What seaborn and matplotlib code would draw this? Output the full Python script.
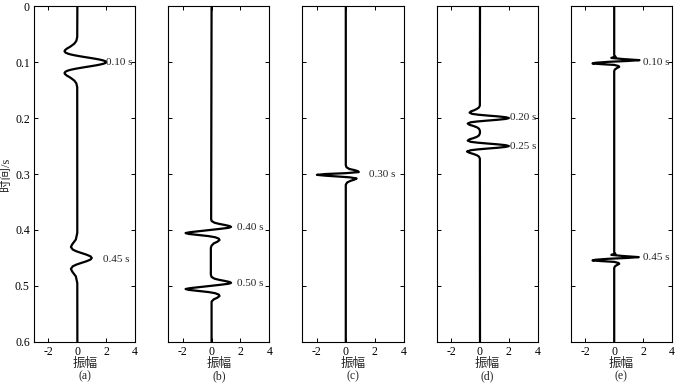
import matplotlib
matplotlib.use("Agg")
import matplotlib.pyplot as plt
import seaborn as sns

# time samples (s) and amplitudes
time_a = [0.0, 0.055, 0.062, 0.067, 0.072, 0.076, 0.0785, 0.0805, 0.083, 0.085, 0.0865, 0.088, 0.0895,
          0.091, 0.0925, 0.094, 0.0955, 0.097, 0.0985, 0.100, 0.1015, 0.103, 0.1045, 0.106, 0.1075,
          0.109, 0.1105, 0.112, 0.1135, 0.115, 0.117, 0.1195, 0.1215, 0.124, 0.128, 0.133, 0.138, 0.145,
          0.405, 0.417, 0.426, 0.4305, 0.435, 0.438, 0.441, 0.444, 0.447, 0.450, 0.453, 0.456, 0.459,
          0.462, 0.465, 0.4695, 0.474, 0.483, 0.495, 0.6]
amp_a = [0.0, -0.01, -0.07, -0.21, -0.47, -0.73, -0.85, -0.89, -0.82, -0.64, -0.43, -0.155, 0.17,
         0.52, 0.89, 1.24, 1.55, 1.79, 1.95, 2.0, 1.95, 1.79, 1.55, 1.24, 0.89,
         0.52, 0.17, -0.155, -0.43, -0.64, -0.82, -0.89, -0.85, -0.73, -0.47, -0.21, -0.07, -0.01,
         -0.005, -0.105, -0.365, -0.445, -0.32, -0.08, 0.26, 0.62, 0.9, 1.0, 0.9, 0.62, 0.26,
         -0.08, -0.32, -0.445, -0.365, -0.105, -0.005, 0.0]

time_b = [0.0, 0.380, 0.384, 0.387, 0.389, 0.391, 0.393, 0.3945, 0.396, 0.398, 0.400, 0.402, 0.404,
          0.4055, 0.407, 0.409, 0.411, 0.413, 0.4155, 0.418, 0.421, 0.424, 0.428, 0.432,
          0.480, 0.484, 0.487, 0.489, 0.491, 0.493, 0.4945, 0.496, 0.498, 0.500, 0.502, 0.504,
          0.5055, 0.507, 0.509, 0.511, 0.513, 0.5155, 0.518, 0.521, 0.524, 0.528, 0.532, 0.6]
amp_b = [0.0, -0.03, 0.0, 0.2, 0.5, 0.9, 1.25, 1.35, 1.2, 0.6, -0.1, -0.8, -1.5,
         -1.8, -1.6, -0.9, -0.2, 0.25, 0.5, 0.55, 0.4, 0.15, 0.0, -0.05,
         -0.05, 0.0, 0.2, 0.5, 0.9, 1.25, 1.35, 1.2, 0.6, -0.1, -0.8, -1.5,
         -1.8, -1.6, -0.9, -0.2, 0.25, 0.5, 0.55, 0.4, 0.15, 0.0, 0.0, 0.0]

time_c = [0.0, 0.284, 0.288, 0.291, 0.293, 0.295, 0.2965, 0.2985, 0.300, 0.3015, 0.303, 0.3045,
          0.306, 0.308, 0.310, 0.312, 0.315, 0.319, 0.6]
amp_c = [0.0, 0.0, 0.05, 0.25, 0.6, 0.85, 0.9, 0.0, -1.4, -2.0, -1.4, -0.5,
         0.3, 0.75, 0.6, 0.35, 0.1, 0.0, 0.0]

time_d = [0.0, 0.1775, 0.181, 0.1835, 0.186, 0.188, 0.1903, 0.1925, 0.194, 0.1955, 0.197, 0.1985,
          0.200, 0.2015, 0.203, 0.2045, 0.206, 0.2075, 0.2098, 0.212, 0.214, 0.2165, 0.219, 0.2225,
          0.225,
          0.2275, 0.231, 0.2335, 0.236, 0.238, 0.2403, 0.2425, 0.244, 0.2455, 0.247, 0.2485,
          0.250, 0.2515, 0.253, 0.2545, 0.256, 0.2575, 0.2598, 0.262, 0.264, 0.2665, 0.269, 0.2725,
          0.6]
amp_d = [0.0, -0.01, -0.07, -0.21, -0.4, -0.62, -0.72, -0.55, -0.12, 0.52, 1.24, 1.79,
         2.0, 1.79, 1.24, 0.52, -0.155, -0.64, -0.85, -0.73, -0.47, -0.21, -0.07, -0.01,
         0.0,
         -0.01, -0.07, -0.21, -0.47, -0.73, -0.85, -0.64, -0.155, 0.52, 1.24, 1.79,
         2.0, 1.79, 1.24, 0.52, -0.155, -0.64, -0.9, -0.73, -0.47, -0.21, -0.07, -0.01,
         0.0]

time_e = [0.0, 0.088, 0.0905, 0.0925, 0.0945, 0.0965, 0.098, 0.0995, 0.1012, 0.1025, 0.1038,
          0.105, 0.107, 0.1085, 0.1105, 0.113, 0.116,
          0.440, 0.4425, 0.4445, 0.4465, 0.4485, 0.450, 0.4515, 0.4532, 0.4545, 0.4558,
          0.457, 0.459, 0.4605, 0.4625, 0.465, 0.468, 0.6]
amp_e = [0.0, 0.0, 0.1, -0.2, 0.6, 1.75, 0.9, -0.4, -1.3, -1.5, -0.8,
         0.0, 0.3, 0.35, 0.2, 0.05, 0.0,
         0.0, 0.08, -0.2, 0.6, 1.7, 0.9, -0.4, -1.3, -1.5, -0.8,
         0.0, 0.3, 0.35, 0.2, 0.05, 0.0, 0.0]

# event annotations: (text, amplitude position, time)
notes_a = [("0.10 s", 2.0, 0.100), ("0.45 s", 1.8, 0.452)]
notes_b = [("0.40 s", 1.75, 0.395), ("0.50 s", 1.75, 0.495)]
notes_c = [("0.30 s", 1.6, 0.301)]
notes_d = [("0.20 s", 2.05, 0.199), ("0.25 s", 2.1, 0.250)]
notes_e = [("0.10 s", 2.0, 0.100), ("0.45 s", 2.0, 0.450)]

panel_tags = ["(a)", "(b)", "(c)", "(d)", "(e)"]
x_ticks = [-2, 0, 2, 4]
y_ticks = [0, 0.1, 0.2, 0.3, 0.4, 0.5, 0.6]
y_tick_labels = ["0", "0.1", "0.2", "0.3", "0.4", "0.5", "0.6"]

sns.set_style("ticks")
plt.rcParams["font.family"] = ["Liberation Serif", "Noto Sans CJK SC"]
plt.rcParams["axes.unicode_minus"] = False

fig, axes = plt.subplots(1, 5, figsize=(7, 3.85), dpi=100, sharey=True)
fig.subplots_adjust(left=0.0486, right=0.96, bottom=0.112, top=0.984, wspace=0.327)

traces = [(time_a, amp_a), (time_b, amp_b), (time_c, amp_c), (time_d, amp_d), (time_e, amp_e)]
notes = [notes_a, notes_b, notes_c, notes_d, notes_e]

for ax, (t, amp), tag, marks in zip(axes, traces, panel_tags, notes):
    sns.lineplot(x=amp, y=t, sort=False, estimator=None, color="black", lw=1.6, ax=ax)
    ax.set_xlim(-3, 4)
    ax.set_ylim(0.6, 0)
    ax.set_xticks(x_ticks)
    ax.set_yticks(y_ticks)
    ax.tick_params(direction="in", top=True, right=True, length=3, width=0.7,
                   labelsize=8.5, pad=3, colors="black")
    for side in ax.spines.values():
        side.set_visible(True)
        side.set_linewidth(0.8)
        side.set_color("black")
    ax.set_xlabel("振幅", fontsize=9, labelpad=0)
    ax.set_ylabel("")
    ax.text(0.5, -0.102, tag, transform=ax.transAxes, ha="center", va="center", fontsize=8.5)
    for text, x, y in marks:
        ax.text(x, y, text, ha="left", va="center", fontsize=8)

axes[0].set_yticklabels(y_tick_labels)
axes[0].set_ylabel("时间/s", fontsize=9, labelpad=2)

fig.savefig("out.png", dpi=100)
